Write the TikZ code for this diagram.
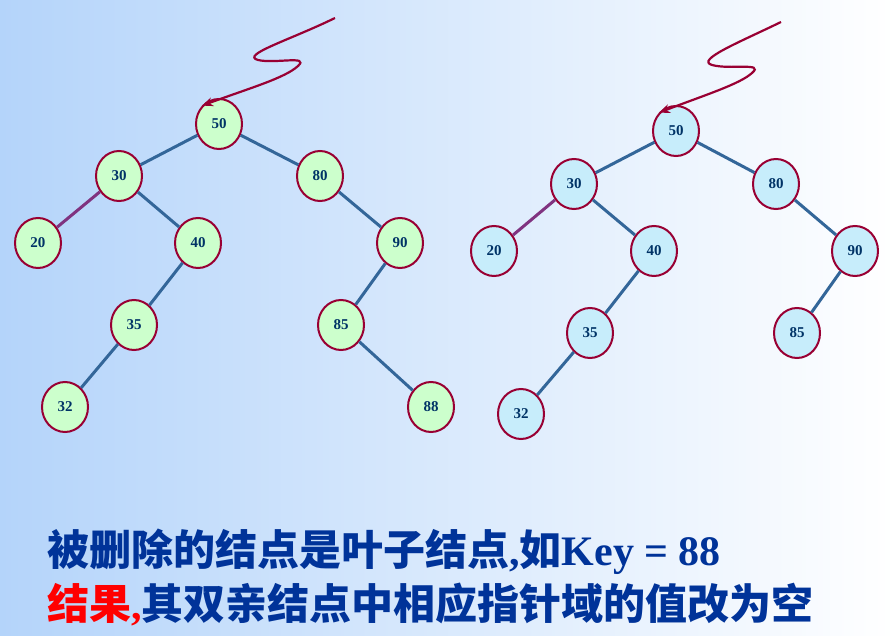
\documentclass[tikz,border=0pt]{standalone}
\usepackage{fontspec}
\setmainfont{Liberation Serif}
\newfontfamily\cjk{Noto Sans CJK SC}
\usetikzlibrary{arrows.meta,shapes.geometric}
\definecolor{bord}{HTML}{990033}
\definecolor{edge}{HTML}{336699}
\definecolor{txt}{HTML}{003366}
\definecolor{btxt}{HTML}{003399}
\definecolor{bgtop}{HTML}{B4D4FA}
\tikzset{
 nd/.style={ellipse,draw=bord,line width=2pt,minimum width=46pt,minimum height=50pt,inner sep=0pt,font=\bfseries\fontsize{15}{15}\selectfont,text=txt},
 lt/.style={nd,fill=green!20},
 rt/.style={nd,fill=cyan!22},
 ed/.style={draw=edge,line width=3pt},
 ped/.style={draw=violet!60!gray,line width=3pt},
 sq/.style={draw=bord,line width=2.2pt,-{Stealth[length=11pt,width=9pt]}},
 tx/.style={anchor=base west,inner sep=0pt,text=btxt,font=\bfseries\fontsize{42}{42}\selectfont},
}
\begin{document}
\begin{tikzpicture}[x=1pt,y=-1pt]
\useasboundingbox (0,0) rectangle (895,636);
\shade[shading angle=135,left color=bgtop,right color=white] (0,0) rectangle (895,636);
% left tree
\node[lt] (a50) at (219,124) {50};
\node[lt] (a30) at (119,176) {30};
\node[lt] (a80) at (320,176) {80};
\node[lt] (a20) at (38,243) {20};
\node[lt] (a40) at (198,243) {40};
\node[lt] (a90) at (400,243) {90};
\node[lt] (a35) at (134,325) {35};
\node[lt] (a85) at (341,325) {85};
\node[lt] (a32) at (65,407) {32};
\node[lt] (a88) at (431,407) {88};
\draw[ed] (a50)--(a30); \draw[ed] (a50)--(a80);
\draw[ped] (a30)--(a20); \draw[ed] (a30)--(a40);
\draw[ed] (a80)--(a90); \draw[ed] (a40)--(a35);
\draw[ed] (a35)--(a32); \draw[ed] (a90)--(a85);
\draw[ed] (a85)--(a88);
% right tree
\node[rt] (b50) at (676,131) {50};
\node[rt] (b30) at (574,184) {30};
\node[rt] (b80) at (776,184) {80};
\node[rt] (b20) at (494,251) {20};
\node[rt] (b40) at (654,251) {40};
\node[rt] (b90) at (855,251) {90};
\node[rt] (b35) at (590,333) {35};
\node[rt] (b85) at (797,333) {85};
\node[rt] (b32) at (521,414) {32};
\draw[ed] (b50)--(b30); \draw[ed] (b50)--(b80);
\draw[ped] (b30)--(b20); \draw[ed] (b30)--(b40);
\draw[ed] (b80)--(b90); \draw[ed] (b40)--(b35);
\draw[ed] (b35)--(b32); \draw[ed] (b90)--(b85);
% squiggles
\coordinate (s1) at (335,18);
\coordinate (s2) at (781,22);
\draw[sq] (s1) .. controls (290,40) and (240,55) .. (258,60) .. controls (275,64) and (310,55) .. (298,66) .. controls (285,78) and (250,88) .. (a50.north west);
\draw[sq] (s2) .. controls (740,42) and (695,60) .. (712,65) .. controls (730,70) and (765,62) .. (752,73) .. controls (740,84) and (705,95) .. (b50.north west);
% text
\node[tx] (t1) at (47,565) {{\cjk 被删除的结点是叶子结点},{\cjk 如}\textbf{Key = 88}};
\node[tx] (t2) at (47,619) {\textcolor{red}{{\cjk 结果}\textbf{,}}{\cjk 其双亲结点中相应指针域的值改为空}};
\end{tikzpicture}
\end{document}
